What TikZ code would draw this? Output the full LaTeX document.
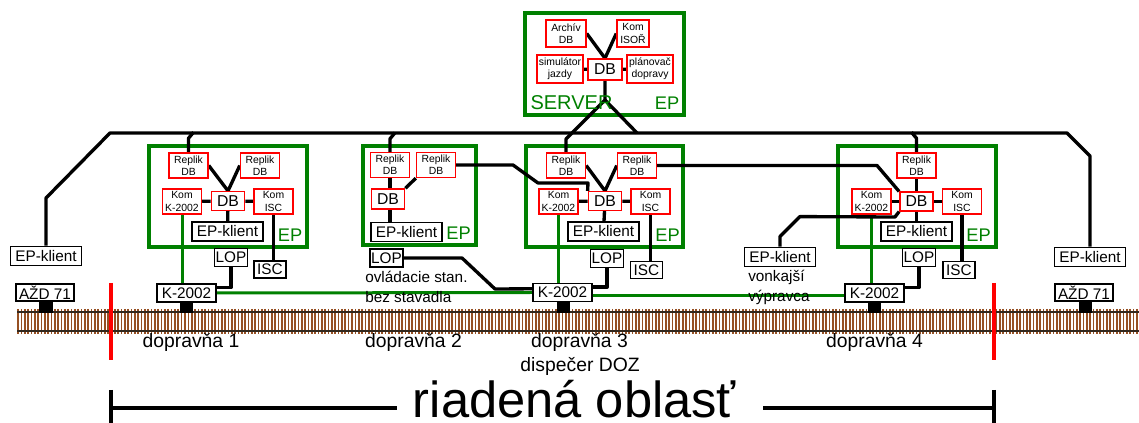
\documentclass[tikz,border=0pt]{standalone}
\usepackage{fontspec}
\setmainfont{Liberation Sans}
\definecolor{epgreen}{RGB}{0,128,0}
\definecolor{tiebrown}{RGB}{150,80,35}
\definecolor{railgray}{RGB}{50,40,30}
\usetikzlibrary{backgrounds}

\begin{document}
\begin{tikzpicture}[
  x=0.75pt,y=-0.75pt,
  every node/.style={inner sep=0pt},
  redbox/.style={draw=red,fill=white,line width=1.1pt,align=center,
                 minimum width=29.25pt,minimum height=18.75pt,font=\fontsize{7.8}{9.2}\selectfont},
  dbbox/.style={draw=red,fill=white,line width=1.1pt,minimum width=25pt,minimum height=14pt,
                font=\fontsize{11.8}{13}\selectfont},
  blkbox/.style={draw,fill=white,line width=1.1pt,minimum height=13.5pt,font=\fontsize{11.5}{13}\selectfont},
  epkbox/.style={blkbox,minimum width=53.5pt,minimum height=14.5pt},
  lopbox/.style={blkbox,minimum width=24.75pt},
  iscbox/.style={blkbox,minimum width=24pt,minimum height=13pt},
  kbox/.style={blkbox,minimum width=44.25pt},
  azdbox/.style={blkbox,minimum width=43.5pt,minimum height=13pt},
  epframe/.style={draw=epgreen,line width=2.6pt},
  eplabel/.style={text=epgreen,anchor=base,font=\fontsize{13.7}{15}\selectfont},
  wire/.style={line width=2.5pt,line join=round},
  gwire/.style={draw=epgreen,line width=2.25pt},
  note/.style={align=left,font=\fontsize{11.5}{15}\selectfont,anchor=west},
  place/.style={anchor=base,font=\fontsize{14.5}{17}\selectfont},
]
  \useasboundingbox (0,0) rectangle (1139,423);

  % Server
  \node[redbox,minimum width=30pt,minimum height=20.25pt] (arch) at (566,33.5) {Archív\\DB};
  \node[redbox,minimum width=24pt,minimum height=20.25pt] (isor) at (633,33.5) {Kom\\ISOŘ};
  \node[redbox,minimum width=34.5pt,minimum height=21pt] (sim) at (560,69) {simulátor\\jazdy};
  \node[dbbox,minimum width=25.5pt,minimum height=15.75pt] (sdb) at (605,69.5) {DB};
  \node[redbox,minimum width=34.5pt,minimum height=21pt] (plan) at (650,69) {plánovač\\dopravy};
  \node[eplabel,font=\fontsize{15}{16}\selectfont] (srvlab) at (571.5,110) {SERVER};
  \node[eplabel] (srvep) at (667,110) {EP};

  % Station 1
  \node[redbox] (rep1a) at (188.5,165.5) {Replik\\DB};
  \node[redbox] (rep1b) at (260,165.5) {Replik\\DB};
  \node[redbox] (kk1) at (182,201.5) {Kom\\K-2002};
  \node[dbbox] (db1) at (228,201) {DB};
  \node[redbox] (ki1) at (273.5,201.5) {Kom\\ISC};
  \node[epkbox] (epk1) at (227.5,231.5) {EP-klient};
  \node[eplabel] (ep1) at (290,242) {EP};
  \node[lopbox] (lop1) at (231,257.5) {LOP};
  \node[iscbox] (isc1) at (270,269.5) {ISC};
  \node[kbox] (k1) at (186.5,293) {K-2002};

  % Station 2
  \node[redbox] (rep2a) at (390,165) {Replik\\DB};
  \node[redbox] (rep2b) at (436,165) {Replik\\DB};
  \node[dbbox,minimum height=15pt] (db2) at (388,199) {DB};
  \node[epkbox] (epk2) at (406.5,232) {EP-klient};
  \node[eplabel] (ep2) at (458.5,240) {EP};
  \node[lopbox] (lop2) at (386.5,258) {LOP};
  \node[note] (ctl2) at (365,287) {ovládacie stan.\\bez stavadla};

  % Station 3
  \node[redbox] (rep3a) at (566,165.5) {Replik\\DB};
  \node[redbox] (rep3b) at (637,165.5) {Replik\\DB};
  \node[redbox] (kk3) at (558.5,201.5) {Kom\\K-2002};
  \node[dbbox] (db3) at (605,201) {DB};
  \node[redbox] (ki3) at (650.5,201.5) {Kom\\ISC};
  \node[epkbox] (epk3) at (603.5,231.5) {EP-klient};
  \node[eplabel] (ep3) at (667.5,242) {EP};
  \node[lopbox] (lop3) at (607,258.5) {LOP};
  \node[iscbox] (isc3) at (646.5,270) {ISC};
  \node[kbox] (k3) at (562.5,292.5) {K-2002};

  % Station 4
  \node[redbox] (rep4) at (916.5,165.5) {Replik\\DB};
  \node[redbox] (kk4) at (871.5,201.5) {Kom\\K-2002};
  \node[dbbox] (db4) at (916.5,201.5) {DB};
  \node[redbox] (ki4) at (962,201.5) {Kom\\ISC};
  \node[epkbox] (epk4) at (916.5,231.5) {EP-klient};
  \node[eplabel] (ep4) at (978.5,242) {EP};
  \node[lopbox] (lop4) at (919,257.5) {LOP};
  \node[iscbox] (isc4) at (959,270) {ISC};
  \node[kbox] (k4) at (874.5,293) {K-2002};

  % Outside clients and neighbours
  \node[epkbox] (epk0) at (46,256) {EP-klient};
  \node[azdbox] (azd0) at (45,292.5) {AŽD 71};
  \node[epkbox] (epkv) at (780,257) {EP-klient};
  \node[note] (ext4) at (748,287) {vonkajší\\výpravca};
  \node[epkbox] (epk5) at (1090,257) {EP-klient};
  \node[azdbox] (azd5) at (1084,292.5) {AŽD 71};

  % Places
  \node[place] (dop1) at (191,348) {dopravňa 1};
  \node[place] (dop2) at (413.5,348) {dopravňa 2};
  \node[place] (dop3) at (579.5,348) {dopravňa 3};
  \node[place] (disp) at (580,372) {dispečer DOZ};
  \node[place] (dop4) at (874.5,348) {dopravňa 4};
  \node[anchor=base,inner xsep=12pt,text depth=0pt,font=\fontsize{38}{40}\selectfont] (area) at (574.5,418) {riadená oblasť};
  \coordinate (brl) at (111,408);
  \coordinate (brr) at (994,408);

  \begin{scope}[on background layer]
    % track
    \foreach \x in {18,21.34,...,1139}
      \draw[tiebrown,line width=1.25pt] (\x,309) -- (\x,334);
    \draw[railgray,line width=1pt] (17,312) -- (1139,312);
    \draw[railgray,line width=1pt] (17,331) -- (1139,331);
    \foreach \a/\b in {39/53,180/193,557/570,868/881,1079/1092}
      \fill (\a,302) rectangle (\b,313);
    \draw[red,line width=3pt] (111,283) -- (111,360);
    \draw[red,line width=3pt] (994,283) -- (994,360);

    % frames
    \draw[epframe] (525,13) rectangle (684,115);
    \draw[epframe] (149,146) rectangle (307,247);
    \draw[epframe] (363,146) rectangle (476,245);
    \draw[epframe] (526,146) rectangle (683,247);
    \draw[epframe] (838,146) rectangle (996,247);

    % green K-2002 links
    \draw[gwire] (kk1.south) -- (kk1.south |- k1.north);
    \draw[gwire] (kk3.south) -- (kk3.south |- k3.north);
    \draw[gwire] (kk4.south) -- (kk4.south |- k4.north);
    \draw[gwire] (k1.east) -- (k3.west);
    \draw[gwire] (k3.-5) -- (k3.-5 -| k4.west);

    % bus
    \draw[wire] (epk0.north) -- (46,198) -- (110,133) -- (1067,133) -- (1090,156) -- (epk5.north);
    \draw[wire] (rep1a.north) -- ++(0,-14) -- ++(5,-6);
    \draw[wire] (rep2a.north) -- ++(0,-13) -- ++(5,-6);
    \draw[wire] (rep4.north) -- ++(0,-14) -- ++(-5,-6);
    \coordinate (srvfork) at (605,100);
    \draw[wire] (sdb.south) -- (srvfork) -- (566,139) -- (rep3a.north);
    \draw[wire] (srvfork) -- (637,133);

    % server links
    \draw[wire] (arch.east) -- (sdb.north) -- (isor.west);
    \draw[wire] (sim) -- (sdb) -- (plan);

    % station 1 links
    \draw[wire] (rep1a.east) -- (db1.north) -- (rep1b.west);
    \draw[wire] (kk1) -- (db1) -- (ki1);
    \draw[wire] (db1) -- (epk1);
    \draw[wire] (ki1.south) -- (ki1.south |- isc1.north);
    \draw[wire] (lop1.south) |- (k1.10);

    % station 2 links
    \draw[wire] (rep2a) -- (db2.north -| rep2a);
    \draw[wire] (db2.north east) -- (rep2b.south west);
    \draw[wire] (db2.south -| rep2a) -- (epk2.north -| rep2a);
    \draw[wire] (rep2b.east) -- (513,165) -- (538,183) -- (588,183) -- (db3.north west);
    \draw[wire] (lop2.east) -- (462,258) -- (495,289) -- (k3.173);

    % station 3 links
    \draw[wire] (rep3a.east) -- (db3.north) -- (rep3b.west);
    \draw[wire] (kk3) -- (db3) -- (ki3);
    \draw[wire] (db3) -- (epk3);
    \draw[wire] (ki3.south) -- (ki3.south |- isc3.north);
    \draw[wire] (lop3.south) |- (k3.10);
    \draw[wire] (rep3b.east) -- (877,165.5) -- (db4.north west);

    % station 4 links
    \draw[wire] (rep4) -- (db4);
    \draw[wire] (kk4) -- (db4) -- (ki4);
    \draw[wire] (db4) -- (epk4);
    \draw[wire] (ki4.south) -- (ki4.south |- isc4.north);
    \draw[wire] (lop4.south) |- (k4.10);
    \draw[wire] (epkv.north) -- ++(0,-10) -- ++(20,-20) -- (895,217) -- (db4.south west);

    % area bracket
    \draw[wire] (111,390) -- (111,423);
    \draw[wire] (994,390) -- (994,423);
    \draw[wire] (brl) -- (brl -| area.west);
    \draw[wire] (brr) -- ([xshift=8pt]brr -| area.east);
  \end{scope}
\end{tikzpicture}
\end{document}
